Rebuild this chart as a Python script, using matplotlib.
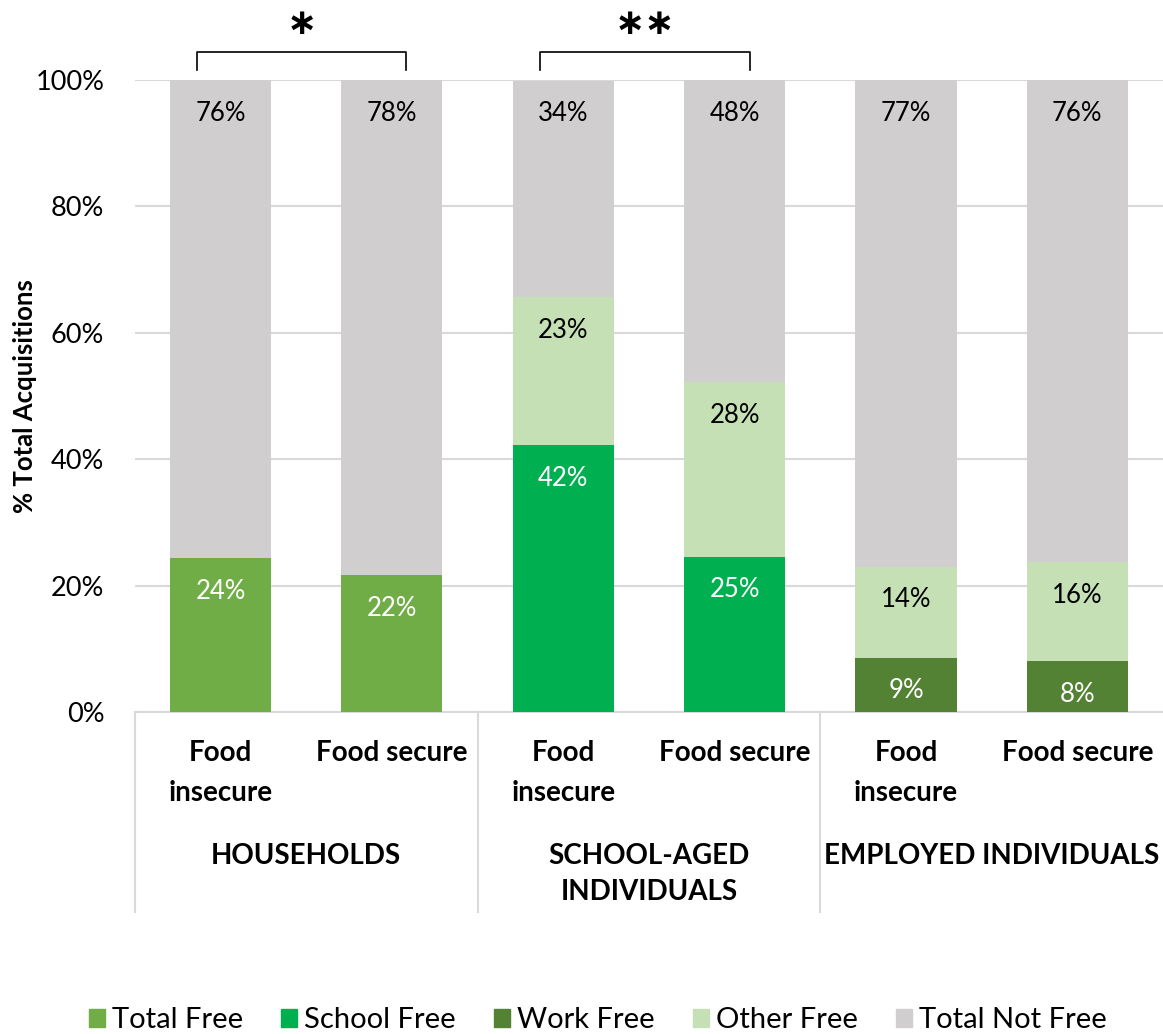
import numpy as np
import matplotlib.pyplot as plt
from matplotlib.patches import Patch
import matplotlib.transforms as mtransforms

plt.rcParams['font.family'] = ['Lato', 'DejaVu Sans']

# 数据（百分比）
categories = ['Food\ninsecure', 'Food secure'] * 3
groups = ['HOUSEHOLDS', 'SCHOOL-AGED\nINDIVIDUALS', 'EMPLOYED INDIVIDUALS']
total_free = [24.4, 21.7, 0, 0, 0, 0]
school_free = [0, 0, 42.2, 24.6, 0, 0]
work_free = [0, 0, 0, 0, 8.6, 8.1]
other_free = [0, 0, 23.4, 27.6, 14.4, 15.6]
not_free = [75.6, 78.3, 34.3, 47.8, 77.0, 76.3]
stars = ['∗', '∗∗']

series = [
    ('Total Free', total_free, '#70AD47', 'white'),
    ('School Free', school_free, '#00B050', 'white'),
    ('Work Free', work_free, '#548235', 'white'),
    ('Other Free', other_free, '#C5E0B4', 'black'),
    ('Total Not Free', not_free, '#D0CECE', 'black'),
]

fig = plt.figure(figsize=(11.63, 10.34), dpi=100)
ax = fig.add_axes([0.116, 0.3114, 0.884, 0.6112])

x = np.arange(len(categories))
bottom = np.zeros(len(categories))
for name, vals, color, tc in series:
    vals = np.array(vals, dtype=float)
    ax.bar(x, vals, bottom=bottom, width=0.59, color=color, zorder=3)
    for xi, b, v in zip(x, bottom, vals):
        if v > 0:
            ax.annotate('{:.0f}%'.format(v), (xi, b + v), xytext=(0, -24),
                        textcoords='offset points', ha='center', va='center',
                        color=tc, fontsize=18.5, zorder=4, annotation_clip=False)
    bottom += vals

ax.set_xlim(-0.5, 5.5)
ax.set_ylim(0, 100)
ax.set_yticks(range(0, 101, 20))
ax.set_yticklabels(['{}%'.format(v) for v in range(0, 101, 20)], fontsize=19.5)
ax.tick_params(axis='y', length=0, pad=22)
ax.set_xticks([])
ax.grid(axis='y', color='#D9D9D9', lw=1.5, zorder=0)
for s in ['top', 'right', 'left']:
    ax.spines[s].set_visible(False)
ax.spines['bottom'].set_color('#D9D9D9')
ax.spines['bottom'].set_linewidth(1.5)
ax.set_ylabel('% Total Acquisitions', fontsize=18.5, fontweight='bold')
ax.yaxis.set_label_coords(-0.095, 0.5)

# 分类标签与分组标签
trans = mtransforms.blended_transform_factory(ax.transData, ax.transAxes)
for xi, lab in zip(x, categories):
    ax.text(xi, -0.045, lab, transform=trans, ha='center', va='top',
            fontsize=20, fontweight='bold', linespacing=1.65)
for gi, g in enumerate(groups):
    ax.text(2 * gi + 0.5, -0.207, g, transform=trans, ha='center', va='top',
            fontsize=20, fontweight='bold', linespacing=1.5)
for sx in [-0.5, 1.5, 3.5]:
    ax.plot([sx, sx], [0, -0.316], transform=trans, color='#D9D9D9', lw=1.5,
            clip_on=False)

# 显著性括号
for (x0, x1), st in zip([(-0.139, 1.084), (1.865, 3.088)], stars):
    ax.plot([x0, x0, x1, x1], [1.016, 1.044, 1.044, 1.016], transform=trans,
            color='black', lw=1.2, clip_on=False)
    ax.text((x0 + x1) / 2, 1.088, st, transform=trans, ha='center', va='center',
            fontsize=26, family='DejaVu Sans', fontweight='bold')

handles = [Patch(color=c) for _, _, c, _ in series]
fig.legend(handles, [n for n, _, _, _ in series], loc='center',
           bbox_to_anchor=(0.514, 0.0135), ncol=5, frameon=False, fontsize=21,
           handlelength=0.55, handleheight=0.55, handletextpad=0.25, columnspacing=1.3)

plt.savefig('out.png')
